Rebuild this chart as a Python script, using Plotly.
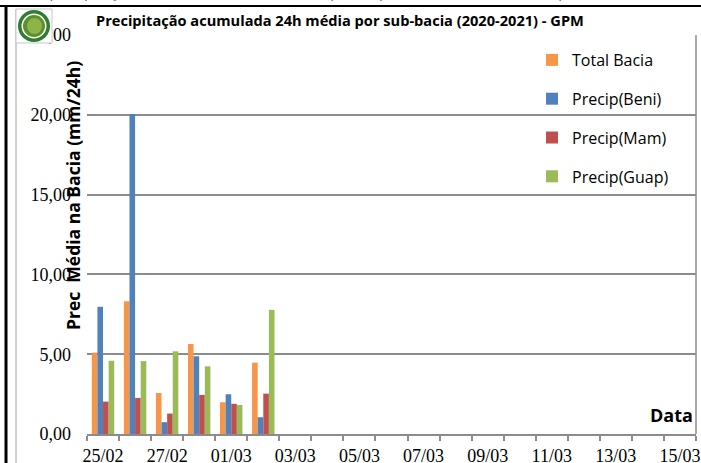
import plotly.graph_objects as go

# ---- data ----
dates = ["2021-02-25", "2021-02-26", "2021-02-27", "2021-02-28", "2021-03-01", "2021-03-02"]
total_bacia = [5.10, 8.32, 2.57, 5.64, 1.99, 4.47]
precip_beni = [7.97, 20.05, 0.74, 4.87, 2.49, 1.05]
precip_mam = [2.03, 2.26, 1.28, 2.45, 1.89, 2.53]
precip_guap = [4.59, 4.57, 5.18, 4.24, 1.82, 7.78]

series = [
    ("Total Bacia", total_bacia, "#F79646"),
    ("Precip(Beni)", precip_beni, "#4F81BD"),
    ("Precip(Mam)", precip_mam, "#C0504D"),
    ("Precip(Guap)", precip_guap, "#9BBB59"),
]

title_text = "Precipitação acumulada 24h média por sub-bacia (2020-2021) - GPM"
ytitle_text = "Prec\u00a0\u00a0Média na Bacia (mm/24h)"
xtitle_text = "Data"
top_text = "A precipitação média acumulada da bacia para o período (25/02 a 02/03), apresentou valores"

W, H = 701, 463
L, R, T, B = 87, 5, 35, 29
PW, PH = W - L - R, H - T - B


def px(x):
    return (x - L) / PW


def py(y):
    return (H - B - y) / PH


GRID = "#8c8c8c"

fig = go.Figure()
for i, (name, vals, col) in enumerate(series):
    fig.add_trace(go.Bar(x=dates, y=vals, name=name, marker=dict(color=col, line=dict(width=0)),
                         legendgroup=f"g{i}"))

fig.update_layout(
    width=W, height=H,
    margin=dict(l=L, r=R, t=T, b=B, autoexpand=False),
    paper_bgcolor="white", plot_bgcolor="white",
    barmode="group", bargap=0.3, bargroupgap=0,
    separators=",.",
    showlegend=True,
    legend=dict(x=px(532), y=py(43), xanchor="left", yanchor="top",
                bgcolor="rgba(0,0,0,0)", borderwidth=0,
                font=dict(family="Open Sans", size=16, color="black"),
                traceorder="grouped", tracegroupgap=15, itemwidth=30),
    xaxis=dict(type="date", range=["2021-02-24 12:00", "2021-03-15 12:00"],
               automargin=False,
               tickmode="linear", tick0="2021-02-25", dtick=2 * 86400000,
               tickformat="%d/%m", ticks="", showgrid=False,
               showline=True, linecolor=GRID, linewidth=1.5,
               tickfont=dict(family="Liberation Serif", size=18, color="black"),
               ticklabelstandoff=5,
               minor=dict(ticks="outside", dtick=86400000, tick0="2021-02-24 12:00",
                          ticklen=5, tickcolor=GRID, tickwidth=1.5, showgrid=False)),
    yaxis=dict(range=[0, 25], tickmode="linear", tick0=0, dtick=5, tickformat=".2f",
               automargin=False,
               showgrid=True, gridcolor=GRID, gridwidth=1.5, zeroline=False,
               showline=False, ticks="",
               tickfont=dict(family="Liberation Serif", size=18, color="black"),
               ticklabelstandoff=15),
)

# titles
fig.add_annotation(text=title_text, xref="paper", yref="paper", x=px(340), y=py(20),
                   showarrow=False, xanchor="center", yanchor="middle",
                   font=dict(family="Open Sans", size=14.6, color="black", weight="bold"))
fig.add_annotation(text=ytitle_text, xref="paper", yref="paper", x=px(73), y=py(196),
                   showarrow=False, textangle=-90, xanchor="center", yanchor="middle",
                   font=dict(family="Open Sans", size=17.5, color="black", weight="bold"))
fig.add_annotation(text=xtitle_text, xref="paper", yref="paper", x=px(695), y=py(415),
                   showarrow=False, xanchor="right", yanchor="middle",
                   font=dict(family="Open Sans", size=18, color="black", weight="bold"))
# cut-off line of text above the chart
fig.add_annotation(text=top_text, xref="paper", yref="paper", x=px(360), y=py(-9),
                   showarrow=False, xanchor="center", yanchor="middle",
                   font=dict(family="Open Sans", size=15, color="#666666"))

shapes = []
# page frame lines
shapes.append(dict(type="line", xref="paper", yref="paper", x0=px(0), x1=px(701), y0=py(6), y1=py(6),
                   line=dict(color="black", width=2)))
shapes.append(dict(type="line", xref="paper", yref="paper", x0=px(6), x1=px(6), y0=py(6), y1=py(463),
                   line=dict(color="black", width=3)))
shapes.append(dict(type="line", xref="paper", yref="paper", x0=px(16), x1=px(16), y0=py(9), y1=py(463),
                   line=dict(color="#a0a0a0", width=1)))
# plot right border
shapes.append(dict(type="line", xref="paper", yref="paper", x0=1, x1=1, y0=0, y1=1,
                   line=dict(color=GRID, width=1.5)))
# logo
shapes.append(dict(type="rect", xref="paper", yref="paper", x0=px(16), x1=px(52), y0=py(9), y1=py(43),
                   fillcolor="white", line=dict(color="#c8c8c8", width=1), layer="above"))
shapes.append(dict(type="circle", xref="paper", yref="paper", x0=px(18), x1=px(50), y0=py(10), y1=py(42),
                   fillcolor="#2f7d32", line=dict(width=0), layer="above"))
shapes.append(dict(type="circle", xref="paper", yref="paper", x0=px(21.5), x1=px(46.5), y0=py(13.5), y1=py(38.5),
                   fillcolor="white", line=dict(width=0), layer="above"))
shapes.append(dict(type="circle", xref="paper", yref="paper", x0=px(23), x1=px(45), y0=py(15), y1=py(37),
                   fillcolor="#5e8f2e", line=dict(width=0), layer="above"))
shapes.append(dict(type="circle", xref="paper", yref="paper", x0=px(27), x1=px(42), y0=py(18), y1=py(34),
                   fillcolor="#8bb544", line=dict(width=0), layer="above"))
fig.update_layout(shapes=shapes)

fig.write_html("out.html", config={"displayModeBar": False},
               post_script="document.body.style.margin='0';")
